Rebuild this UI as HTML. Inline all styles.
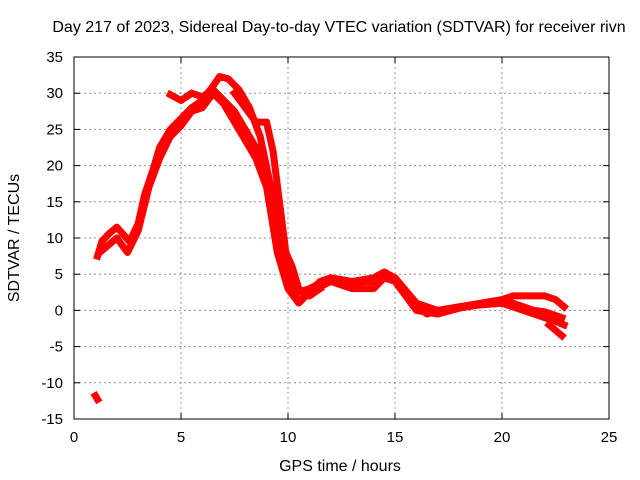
<!DOCTYPE html>
<html><head><meta charset="utf-8"><style>
body{margin:0;background:#fff}
svg{display:block;font-family:"Liberation Sans",sans-serif}
</style></head><body>
<svg id="c" width="640" height="480"></svg>
<script>
const xTicks=[0,5,10,15,20,25];
const yTicks=[-15,-10,-5,0,5,10,15,20,25,30,35];
const seriesA=[[1.1,7.5],[1.3,9.5],[1.6,10.5],[2.0,11.5],[2.3,10.5],[2.6,9.5],[3.0,12],[3.3,16],[3.7,19.5],[4.0,22.5],[4.5,25],[5,26.5],[5.5,28],[6,29],[6.5,31],[6.8,32.3],[7.2,32],[7.7,30.5],[8.2,28],[8.7,24],[9.2,17],[9.6,8],[10,3.5],[10.5,1.2],[11,2.5],[11.5,4],[12,4.5],[12.5,4],[13,3.5],[13.5,4],[14,4],[14.5,5],[15,4.5],[15.5,2.5],[16,0.5],[16.5,-0.5],[17,0],[18,0.5],[19,1],[20,1.5],[20.5,2],[21,2],[21.5,2],[22,2],[22.5,1.5],[22.9,0.5]];
const seriesB=[[1.2,8],[1.6,9],[2.0,10],[2.5,8],[3,11],[3.5,17],[4,21],[4.5,24],[5,25.5],[5.5,27.5],[6,28],[6.5,30],[7,28.5],[7.5,26],[8,23.5],[8.5,21],[9,17],[9.5,8],[10,3],[10.5,1],[11,2.5],[12,4],[13,3],[14,3],[14.5,4.5],[15,4],[16,0],[17,-0.5],[18,0.3],[19,0.8],[20,1],[21,0],[21.5,-0.5],[22,-1],[22.5,-1.5],[22.9,-2]];
const seriesC=[[4.5,29.8],[5,29],[5.5,30],[6,29.5],[6.5,30.5],[7,29],[7.5,27.5],[8,25],[8.5,22.5],[9,19],[9.5,12],[10,5],[10.5,2.5],[11,3],[12,4.5],[13,4],[14,4.5],[14.5,5.3],[15,4.5],[16,1],[17,0],[18,0.5],[20,1],[20.5,1],[21,0.5],[21.5,0],[22,-0.2],[22.8,-1]];
const seriesD=[[7.5,30],[8,28],[8.5,26],[9,26],[9.3,22],[9.6,15],[9.9,8],[10.2,6],[10.5,3],[11,2],[11.5,3]];
const seriesE=[[22.2,-2],[22.8,-3.5]];
const seriesF=[[1.0,-11.8],[1.1,-12.3]];
const allSeries=[seriesA,seriesB,seriesC,seriesD,seriesE,seriesF];
const L=74,R=609,T=57,B=419;
const X=v=>L+(v-0)/25*(R-L);
const Y=v=>B-(v+15)/50*(B-T);
const svg=document.getElementById('c');
const NS='http://www.w3.org/2000/svg';
function mk(t,a){const e=document.createElementNS(NS,t);for(const k in a)e.setAttribute(k,a[k]);svg.appendChild(e);return e;}
xTicks.forEach(t=>{
  if(t>0&&t<25){const g=mk('line',{x1:X(t),x2:X(t),y1:T,y2:B,stroke:'#909090','stroke-dasharray':'2,3'});
  
  }
  const tx=mk('text',{x:X(t),y:B+23,'text-anchor':'middle','font-size':15,fill:'#000'});tx.textContent=t;
  
  
  mk('line',{x1:X(t),x2:X(t),y1:B,y2:B-6,stroke:'#000'});
  mk('line',{x1:X(t),x2:X(t),y1:T,y2:T+6,stroke:'#000'});
});
yTicks.forEach(t=>{
  if(t>-15&&t<35){const g=mk('line',{x1:L,x2:R,y1:Y(t),y2:Y(t),stroke:'#909090','stroke-dasharray':'2,3'});
  
  }
  const tx=mk('text',{x:L-11,y:Y(t)+5,'text-anchor':'end','font-size':15,fill:'#000'});tx.textContent=t;
  
  
  mk('line',{x1:L,x2:L+6,y1:Y(t),y2:Y(t),stroke:'#000'});
  mk('line',{x1:R,x2:R-6,y1:Y(t),y2:Y(t),stroke:'#000'});
});
allSeries.forEach((s,i)=>{
  const p=mk('polyline',{points:s.map(d=>X(d[0])+','+Y(d[1])).join(' '),fill:'none',stroke:'#ff0000','stroke-width':7,'stroke-linejoin':'round','stroke-linecap':'square'});
  
  
});
const fr=mk('rect',{x:L,y:T,width:R-L,height:B-T,fill:'none',stroke:'#000','stroke-width':1});


const ti=mk('text',{x:339,y:32,'text-anchor':'middle','font-size':16,fill:'#000'});ti.textContent='Day 217 of 2023, Sidereal Day-to-day VTEC variation (SDTVAR) for receiver rivn';


const xl=mk('text',{x:340,y:471,'text-anchor':'middle','font-size':16,fill:'#000'});xl.textContent='GPS time / hours';


const yl=mk('text',{x:0,y:0,'text-anchor':'middle','font-size':16,fill:'#000',transform:'translate(19,238) rotate(-90)'});yl.textContent='SDTVAR / TECUs';


</script>
</body></html>
